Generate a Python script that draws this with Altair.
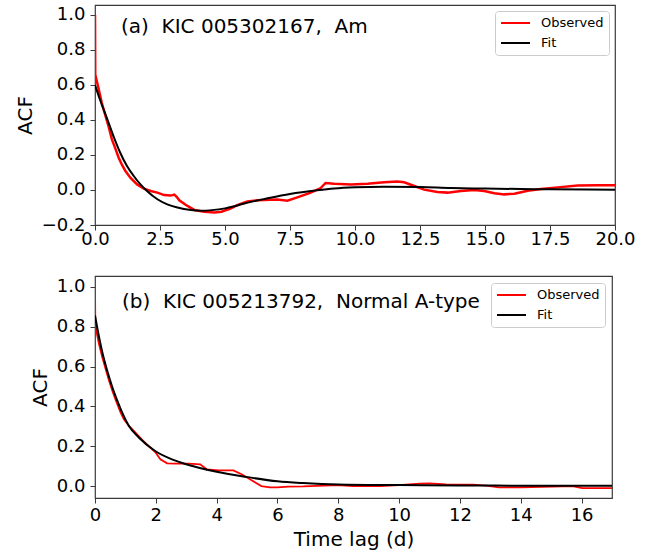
import altair as alt
import pandas as pd

# ---- Panel (a): KIC 005302167, Am ----
a_obs_t = [0.0, 0.01, 0.04, 0.13, 0.26, 0.39, 0.52, 0.65, 0.78, 0.91, 1.04, 1.17, 1.36, 1.62, 1.88,
           2.14, 2.40, 2.66, 2.91, 3.05, 3.15, 3.24, 3.50, 3.82, 4.21, 4.60, 4.86, 5.21, 5.47, 5.86,
           6.24, 6.50, 7.01, 7.40, 7.78, 8.30, 8.68, 8.87, 9.20, 9.84, 10.48, 11.12, 11.63, 11.89,
           12.28, 12.66, 13.17, 13.56, 14.07, 14.59, 14.97, 15.36, 15.74, 16.13, 16.64, 17.15,
           17.80, 18.57, 19.34, 20.0]
a_obs_v = [1.0, 0.66, 0.64, 0.584, 0.498, 0.43, 0.365, 0.289, 0.238, 0.184, 0.143, 0.108, 0.07,
           0.032, 0.008, -0.006, -0.015, -0.029, -0.032, -0.026, -0.04, -0.059, -0.086, -0.114,
           -0.125, -0.129, -0.124, -0.106, -0.087, -0.065, -0.059, -0.057, -0.055, -0.061, -0.042,
           -0.015, 0.011, 0.040, 0.036, 0.032, 0.036, 0.044, 0.049, 0.044, 0.023, 0.002, -0.011,
           -0.015, -0.006, 0.0, -0.006, -0.019, -0.025, -0.021, -0.004, 0.006, 0.015, 0.025, 0.027,
           0.027]
a_fit_t = [0.0, 0.19, 0.45, 0.71, 0.97, 1.23, 1.49, 1.75, 2.0, 2.4, 2.78, 3.17, 3.69, 4.08, 4.5,
           5.0, 5.5, 6.0, 6.6, 7.5, 8.55, 9.2, 10.0, 11.1, 12.5, 13.7, 15.0, 17.5, 20.0]
a_fit_v = [0.6, 0.517, 0.413, 0.308, 0.213, 0.137, 0.08, 0.032, -0.006, -0.053, -0.082, -0.1,
           -0.114, -0.118, -0.115, -0.105, -0.087, -0.068, -0.049, -0.023, -0.002, 0.008, 0.015,
           0.019, 0.017, 0.011, 0.008, 0.004, 0.002]
a_xticks = [0.0, 2.5, 5.0, 7.5, 10.0, 12.5, 15.0, 17.5, 20.0]
a_yticks = [-0.2, 0.0, 0.2, 0.4, 0.6, 0.8, 1.0]
a_label = "(a)\u00a0 KIC 005302167,\u00a0 Am"

# ---- Panel (b): KIC 005213792, Normal A-type ----
b_obs_t = [0.0, 0.01, 0.03, 0.13, 0.24, 0.35, 0.46, 0.57, 0.68, 0.84, 0.95, 1.11, 1.33, 1.55,
           1.77, 1.98, 2.15, 2.37, 2.64, 3.08, 3.46, 3.67, 4.06, 4.55, 4.82, 5.15, 5.47, 5.75,
           6.0, 6.35, 6.85, 8.0, 8.48, 9.37, 10.0, 10.67, 11.0, 11.54, 12.42, 12.86, 13.29, 14.0,
           15.04, 15.7, 16.02, 17.0]
b_obs_v = [1.0, 0.82, 0.79, 0.714, 0.647, 0.588, 0.53, 0.479, 0.432, 0.37, 0.336, 0.303, 0.269,
           0.232, 0.2, 0.171, 0.134, 0.114, 0.113, 0.113, 0.109, 0.084, 0.079, 0.079, 0.059, 0.029,
           0.0, -0.007, -0.007, -0.003, -0.002, 0.005, 0.0, 0.0, 0.005, 0.012, 0.013, 0.008, 0.007,
           0.002, -0.007, -0.007, -0.003, 0.0, -0.01, -0.01]
b_fit_t = [0.0, 0.08, 0.24, 0.4, 0.57, 0.73, 0.89, 1.11, 1.44, 1.98, 2.53, 3.08, 4.0, 4.93, 6.0,
           6.85, 8.0, 10.0, 12.0, 14.0, 17.0]
b_fit_v = [0.857, 0.79, 0.672, 0.58, 0.496, 0.43, 0.37, 0.303, 0.244, 0.176, 0.134, 0.106, 0.072,
           0.047, 0.024, 0.015, 0.008, 0.005, 0.003, 0.002, 0.002]
b_xticks = [0, 2, 4, 6, 8, 10, 12, 14, 16]
b_yticks = [0.0, 0.2, 0.4, 0.6, 0.8, 1.0]
b_label = "(b)\u00a0 KIC 005213792,\u00a0 Normal A-type"

series_names = ["Observed", "Fit"]
series_colors = ["#ff0000", "#000000"]

FONT = "DejaVu Sans"
AX = "#3a3a3a"


def panel(obs_t, obs_v, fit_t, fit_v, xdom, xticks, xfmt, ydom, yticks, label,
          w, h, xtitle, xpad, leg_off, tx, ty, obs_w):
    obs = pd.DataFrame({"t": obs_t, "v": obs_v, "s": "Observed"})
    fit = pd.DataFrame({"t": fit_t, "v": fit_v, "s": "Fit"})
    xaxis_kw = dict(values=xticks, format=xfmt, labelFontSize=18, labelColor="black",
                    tickSize=5, tickColor=AX, labelPadding=xpad, grid=False, domain=False,
                    labelFlush=False, labelOverlap=False, titleFontSize=20,
                    titleFontWeight="normal", titleColor="black", titlePadding=5)
    if xtitle:
        xaxis = alt.Axis(title=xtitle, **xaxis_kw)
    else:
        xaxis = alt.Axis(title=None, **xaxis_kw)
    yaxis = alt.Axis(values=yticks, format=".1f", labelFontSize=18, labelColor="black",
                     tickSize=5, tickColor=AX, labelPadding=5, grid=False, domain=False,
                     labelOverlap=False, title="ACF", titleFontSize=20,
                     titleFontWeight="normal", titleColor="black", titlePadding=6)
    x = alt.X("t:Q", scale=alt.Scale(domain=xdom, nice=False, zero=False), axis=xaxis)
    y = alt.Y("v:Q", scale=alt.Scale(domain=ydom, nice=False, zero=False), axis=yaxis)
    color = alt.Color("s:N", scale=alt.Scale(domain=series_names, range=series_colors),
                      legend=alt.Legend(title=None, orient="top-right", offset=leg_off,
                                        fillColor="white", strokeColor="#cccccc",
                                        cornerRadius=3, padding=5, symbolType="stroke",
                                        symbolStrokeWidth=2, symbolSize=841,
                                        labelFontSize=13, labelFont=FONT, labelColor="black",
                                        labelOffset=10, rowPadding=6, clipHeight=14))
    l1 = alt.Chart(obs).mark_line(strokeWidth=obs_w, clip=True).encode(x=x, y=y, color=color)
    l2 = alt.Chart(fit).mark_line(strokeWidth=2, interpolate="monotone", clip=True).encode(
        x=x, y=y, color=color)
    txt = alt.Chart(pd.DataFrame({"label": [label]})).mark_text(
        align="left", baseline="alphabetic", fontSize=20, font=FONT, color="black"
    ).encode(x=alt.value(tx), y=alt.value(ty), text="label:N")
    return alt.layer(l1, l2, txt).properties(width=w, height=h)


top = panel(a_obs_t, a_obs_v, a_fit_t, a_fit_v, [0, 20], a_xticks, ".1f", [-0.2, 1.057],
            a_yticks, a_label, 520, 220, None, 0, 6, 26, 28, 2.5)
bottom = panel(b_obs_t, b_obs_v, b_fit_t, b_fit_v, [0, 17], b_xticks, "d", [-0.06, 1.055],
               b_yticks, b_label, 517, 222, "Time lag (d)", 3, 7, 27, 32, 1.8)

chart = alt.vconcat(top, bottom, spacing=51, bounds="flush").resolve_scale(
    color="independent"
).properties(
    padding={"left": 14, "top": 4, "right": 5, "bottom": 2}
).configure(font=FONT).configure_view(stroke=AX, strokeWidth=1.2)

chart.save("out.html", embed_options={"renderer": "svg", "actions": False})
